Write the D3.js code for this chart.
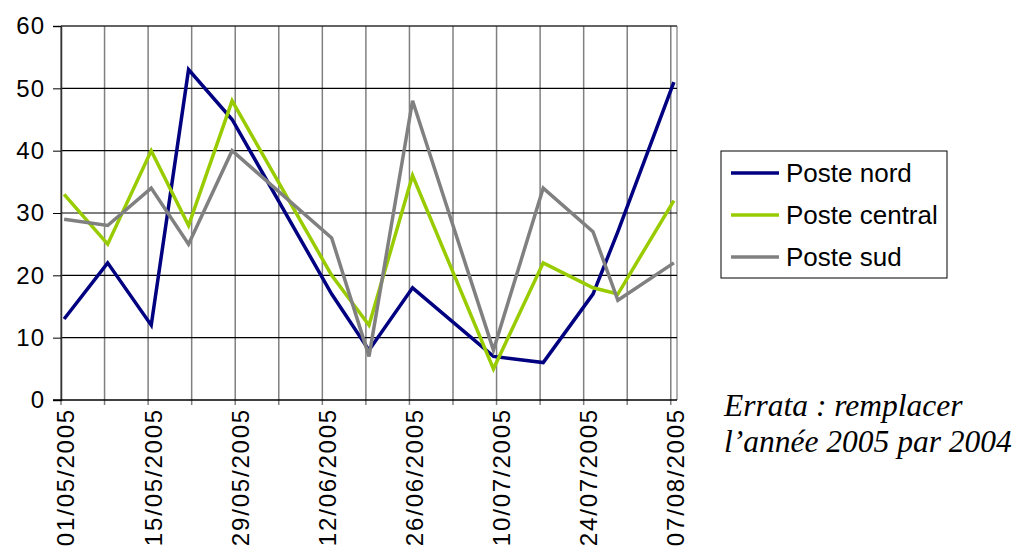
<!DOCTYPE html>
<meta charset="utf-8">
<script src="https://d3js.org/d3.v7.min.js"></script>
<style>
  body { margin: 0; background: #fff; }
  text { font-family: "Liberation Sans", Arial, sans-serif; }
</style>
<div id="chart"></div>

<script>

    // data
    var dates = ["01/05/2005", "08/05/2005", "15/05/2005", "21/05/2005", "28/05/2005", "13/06/2005", "19/06/2005",
                 "26/06/2005", "09/07/2005", "17/07/2005", "25/07/2005", "29/07/2005", "07/08/2005"];
    var posteNord    = [13, 22, 12, 53, 45, 17, 8, 18, 7, 6, 17, 27, 51];
    var posteCentral = [33, 25, 40, 28, 48, 20, 12, 36, 5, 22, 18, 17, 32];
    var posteSud     = [29, 28, 34, 25, 40, 26, 7, 48, 8, 34, 27, 16, 22];
    var seriesNames  = ["Poste nord", "Poste central", "Poste sud"];
    var seriesColors = ["#000080", "#99cc00", "#808080"];
    var yTicks = [0, 10, 20, 30, 40, 50, 60];
    var axisStart = "01/05/2005", axisEnd = "08/08/2005";
    var errata = ["Errata : remplacer", "l\u2019ann\u00e9e 2005 par 2004"];

    var parse = d3.timeParse("%d/%m/%Y"),
        fmt = d3.timeFormat("%d/%m/%Y");

    var margin = {top: 26, left: 61},
        width = 616, height = 374;

    var svg = d3.select("#chart")
        .append("svg")
        .attr("width", 1019)
        .attr("height", 549);

    var g = svg.append("g")
        .attr("transform", "translate(" + margin.left + "," + margin.top + ")");

    var x = d3.scaleTime()
        .domain([parse(axisStart), parse(axisEnd)])
        .range([0, width]);

    var y = d3.scaleLinear()
        .domain([0, 60])
        .range([height, 0]);

    // weekly gridlines, labels every two weeks
    var weeks = d3.timeWeek.range(parse(axisStart), parse(axisEnd));

    // border of the plot
    g.append("line").attr("x1", 0).attr("x2", width).attr("y1", 0).attr("y2", 0)
        .style("stroke", "#b3b3b3").style("stroke-width", 1.5);
    g.append("line").attr("x1", width).attr("x2", width).attr("y1", 0).attr("y2", height)
        .style("stroke", "#999").style("stroke-width", 1.5);

    g.selectAll(".vgrid")
        .data(weeks)
        .enter().append("line")
        .attr("class", "vgrid")
        .attr("x1", function(d) { return x(d); })
        .attr("x2", function(d) { return x(d); })
        .attr("y1", 0).attr("y2", height + 5)
        .style("stroke", "#808080")
        .style("stroke-width", 1.5);

    g.selectAll(".hgrid")
        .data(yTicks.slice(1))
        .enter().append("line")
        .attr("class", "hgrid")
        .attr("x1", 0).attr("x2", width)
        .attr("y1", function(d) { return y(d); })
        .attr("y2", function(d) { return y(d); })
        .style("stroke", "#000")
        .style("stroke-width", 1.2);

    // y axis
    var yAxis = g.append("g")
        .call(d3.axisLeft(y).tickValues(yTicks).tickSize(8).tickPadding(8));
    yAxis.select(".domain").style("stroke", "#333").style("stroke-width", 1.5);
    yAxis.selectAll(".tick line").style("stroke", "#000");
    yAxis.selectAll("text")
        .style("font-size", "24px")
        .style("letter-spacing", "1px")
        .style("fill", "#000")
        .style("font-family", "Liberation Sans, Arial, sans-serif");

    // x axis
    g.append("line")
        .attr("x1", -8).attr("x2", width)
        .attr("y1", height).attr("y2", height)
        .style("stroke", "#000").style("stroke-width", 1.5);

    g.selectAll(".xlab")
        .data(weeks.filter(function(d, i) { return i % 2 === 0; }))
        .enter().append("text")
        .attr("class", "xlab")
        .attr("transform", function(d) { return "translate(" + x(d) + "," + (height + 8) + ") rotate(-90)"; })
        .attr("dy", "0.56em")
        .style("text-anchor", "end")
        .style("font-size", "24px")
        .style("letter-spacing", "1.8px")
        .text(function(d) { return fmt(d); });

    // lines, each point centred in its day
    var series = [posteNord, posteCentral, posteSud];
    var line = d3.line()
        .x(function(d, i) { return x(d3.timeHour.offset(parse(dates[i]), 12)); })
        .y(function(d) { return y(d); });

    g.selectAll(".serie")
        .data(series)
        .enter().append("path")
        .attr("class", "serie")
        .attr("d", line)
        .style("fill", "none")
        .style("stroke", function(d, i) { return seriesColors[i]; })
        .style("stroke-width", 3.5)
        .style("stroke-linejoin", "miter");

    // legend
    var legend = svg.append("g").attr("transform", "translate(721,151)");
    legend.append("rect")
        .attr("width", 226).attr("height", 127)
        .style("fill", "#fff").style("stroke", "#000").style("stroke-width", 1);

    var items = legend.selectAll(".item")
        .data(seriesNames)
        .enter().append("g")
        .attr("class", "item")
        .attr("transform", function(d, i) { return "translate(10," + (22 + i * 42) + ")"; });
    items.append("line")
        .attr("x1", 0).attr("x2", 48)
        .style("stroke", function(d, i) { return seriesColors[i]; })
        .style("stroke-width", 3.5);
    items.append("text")
        .attr("x", 55).attr("dy", "0.33em")
        .style("font-size", "26px")
        .text(function(d) { return d; });

    // errata note
    svg.selectAll(".errata")
        .data(errata)
        .enter().append("text")
        .attr("class", "errata")
        .attr("x", 724)
        .attr("y", function(d, i) { return 416 + i * 36; })
        .style("font-family", "Liberation Serif, Times New Roman, serif")
        .style("font-style", "italic")
        .style("font-size", "31.5px")
        .text(function(d) { return d; });

</script>
